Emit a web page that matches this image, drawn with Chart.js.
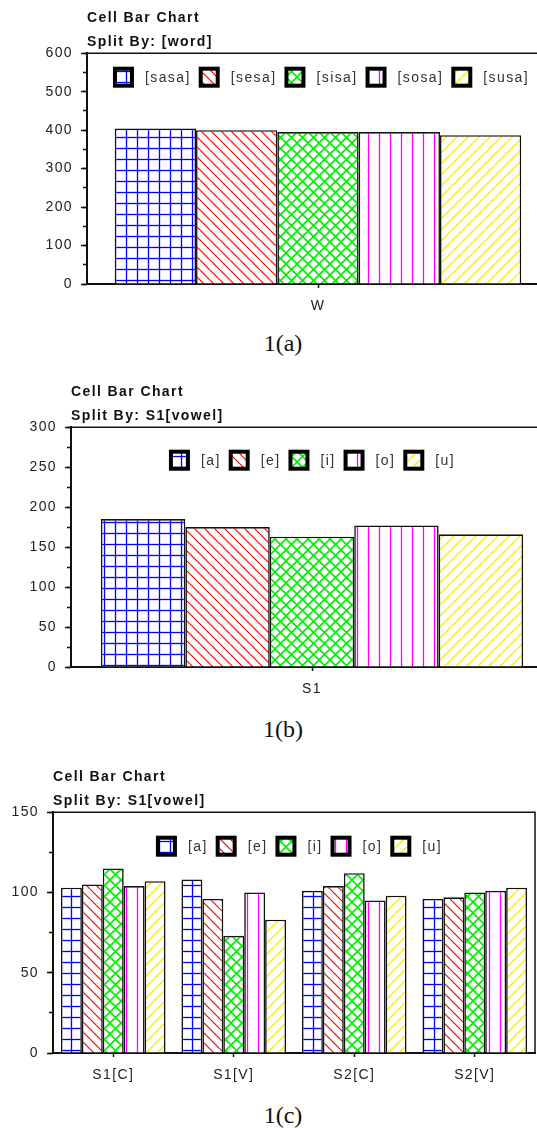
<!DOCTYPE html>
<html lang="en">
<head>
<meta charset="UTF-8">
<title>Cell Bar Chart</title>
<script src="https://cdn.jsdelivr.net/npm/chart.js@4.4.1/dist/chart.umd.min.js"></script>
<style>
  html, body { margin: 0; padding: 0; background: #fff; overflow: hidden; width: 537px; height: 1128px; position: relative; }
  canvas { position: absolute; left: 0; }
  .caption { position: absolute; left: 0; width: 566px; text-align: center; font-family: "Liberation Serif", "Times New Roman", serif; font-size: 24px; color: #111; }
</style>
</head>
<body>
<canvas id="chartA" width="551" height="320" style="top:0px"></canvas>
<div class="caption" style="top:330px">1(a)</div>
<canvas id="chartB" width="555" height="329" style="top:374px"></canvas>
<div class="caption" style="top:716px">1(b)</div>
<canvas id="chartC" width="537" height="330" style="top:759px"></canvas>
<div class="caption" style="top:1102px">1(c)</div>

<script>
// chart 1(a): split by word
var wordCats = ['W'];
var wordLabels = ['[sasa]', '[sesa]', '[sisa]', '[sosa]', '[susa]'];
var wordValues = [404, 400, 395, 395, 387];

// chart 1(b): split by S1 vowel
var s1Cats = ['S1'];
var vowelLabels = ['[a]', '[e]', '[i]', '[o]', '[u]'];
var s1Values = [185, 175, 163, 177, 166];

// chart 1(c): split by S1 vowel, per position
var posCats = ['S1[C]', 'S1[V]', 'S2[C]', 'S2[V]'];
var posA = [103, 108, 101, 96];
var posE = [105, 96, 104, 97];
var posI = [115, 73, 112, 100];
var posO = [104, 100, 95, 101];
var posU = [107, 83, 98, 103];

var FONT = '"Liberation Sans", Arial, sans-serif';

function makePatterns(ctx) {
    function line(t, x1, y1, x2, y2) {
        t.beginPath(); t.moveTo(x1, y1); t.lineTo(x2, y2); t.stroke();
    }
    function tile(size, color, width, draw) {
        var c = document.createElement('canvas');
        c.width = size; c.height = size;
        var t = c.getContext('2d');
        t.fillStyle = '#fff';
        t.fillRect(0, 0, size, size);
        t.strokeStyle = color;
        t.lineWidth = width;
        draw(t, size);
        return ctx.createPattern(c, 'repeat');
    }
    function back(t, s) { for (var k = -1; k <= 1; k++) line(t, k * s, 0, k * s + s, s); }
    function fwd(t, s) { for (var k = -1; k <= 1; k++) line(t, k * s, s, k * s + s, 0); }
    return [
        tile(11, '#0000ff', 1.3, function (t, s) { line(t, 5.5, 0, 5.5, s); line(t, 0, 5.5, s, 5.5); }),
        tile(10, '#ff0000', 1.2, back),
        tile(11, '#00ee00', 1.6, function (t, s) { back(t, s); fwd(t, s); }),
        tile(11, '#ff00ff', 1.3, function (t, s) { line(t, 5.5, 0, 5.5, s); }),
        tile(11, '#f8f000', 1.4, fwd)
    ];
}

var spacing = {
    id: 'spacing',
    beforeUpdate: function (chart) { chart.ctx.letterSpacing = '1.4px'; },
    beforeDraw: function (chart) { chart.ctx.letterSpacing = '1.4px'; }
};

var frame = {
    id: 'frame',
    afterDraw: function (chart) {
        var ctx = chart.ctx, a = chart.chartArea;
        ctx.save();
        ctx.strokeStyle = '#111';
        ctx.lineWidth = 1.5;
        ctx.beginPath();
        ctx.moveTo(a.left, a.top);
        ctx.lineTo(a.right, a.top);
        ctx.lineTo(a.right, a.bottom);
        ctx.stroke();
        ctx.restore();
    }
};

// legend drawn inside the plot, under the top frame line
var innerLegend = {
    id: 'innerLegend',
    afterDraw: function (chart, args, opts) {
        var ctx = chart.ctx, a = chart.chartArea;
        var box = 21, gap = 11, sep = 8;
        ctx.save();
        ctx.font = '14px ' + FONT;
        var items = chart.data.datasets.map(function (ds) {
            return { ds: ds, w: ctx.measureText(ds.label).width };
        });
        var total = sep * (items.length - 1);
        items.forEach(function (it) { total += box + gap + it.w; });
        var x = (a.left + a.right) / 2 - total / 2 + (opts.shift || 0);
        var cy = a.top + opts.offset;
        items.forEach(function (it) {
            ctx.fillStyle = '#000';
            ctx.fillRect(x, cy - box / 2, box, box);
            ctx.fillStyle = it.ds.backgroundColor;
            ctx.fillRect(x + 4, cy - box / 2 + 4, box - 8, box - 8);
            ctx.fillStyle = '#333';
            ctx.textAlign = 'left';
            ctx.textBaseline = 'middle';
            ctx.fillText(it.ds.label, x + box + gap, cy + 1);
            x += box + gap + it.w + sep;
        });
        ctx.restore();
    }
};

function makeChart(id, cats, labels, series, opt) {
    var ctx = document.getElementById(id).getContext('2d');
    var fills = makePatterns(ctx);
    var datasets = series.map(function (vals, i) {
        return {
            label: labels[i],
            data: vals,
            backgroundColor: fills[i],
            borderColor: '#111',
            borderWidth: 1.6,
            categoryPercentage: opt.catPct,
            barPercentage: 1
        };
    });
    return new Chart(ctx, {
        type: 'bar',
        data: { labels: cats, datasets: datasets },
        options: {
            responsive: false,
            animation: false,
            layout: { padding: { left: 0, right: opt.padRight, top: 0, bottom: 0 } },
            plugins: {
                legend: { display: false },
                tooltip: { enabled: false },
                title: {
                    display: true,
                    text: ['Cell Bar Chart', opt.split],
                    align: 'start',
                    fullSize: false,
                    color: '#111',
                    font: { family: FONT, size: 14, weight: 'bold', lineHeight: 1.65 },
                    padding: { top: 7, bottom: 0 }
                },
                innerLegend: { offset: opt.legendOffset, shift: opt.legendShift || 0 }
            },
            scales: {
                x: {
                    grid: { display: true, drawOnChartArea: false, offset: false, tickLength: 4, color: '#111', tickWidth: 1.5 },
                    border: { color: '#111', width: 2 },
                    ticks: { color: '#222', font: { family: FONT, size: 14 }, padding: 10 },
                    afterFit: function (s) { s.height = 36; }
                },
                y: {
                    position: 'left',
                    weight: 1,
                    min: 0,
                    max: opt.max,
                    ticks: { stepSize: opt.major, autoSkip: false, color: '#222', font: { family: FONT, size: 14 }, padding: 8 },
                    grid: { drawOnChartArea: false, tickLength: 6, color: '#111', tickWidth: 1.5 },
                    border: { color: '#111', width: 2 },
                    afterFit: function (s) { s.width = opt.axisLeft; }
                },
                yMinor: {
                    position: 'left',
                    weight: 0,
                    min: 0,
                    max: opt.max,
                    ticks: { display: false, stepSize: opt.major / 2, autoSkip: false },
                    grid: { drawOnChartArea: false, tickLength: 4, color: '#111', tickWidth: 1.5 },
                    border: { display: false },
                    afterFit: function (s) { s.width = 0; }
                }
            }
        },
        plugins: [spacing, frame, innerLegend]
    });
}

makeChart('chartA', wordCats, wordLabels, wordValues.map(function (v) { return [v]; }), {
    split: 'Split By: [word]', max: 600, major: 100, axisLeft: 87, padRight: 2,
    catPct: 0.88, legendOffset: 24, legendShift: 3
});

makeChart('chartB', s1Cats, vowelLabels, s1Values.map(function (v) { return [v]; }), {
    split: 'Split By: S1[vowel]', max: 300, major: 50, axisLeft: 71, padRight: 2,
    catPct: 0.876, legendOffset: 33
});

makeChart('chartC', posCats, vowelLabels, [posA, posE, posI, posO, posU], {
    split: 'Split By: S1[vowel]', max: 150, major: 50, axisLeft: 53, padRight: 2,
    catPct: 0.868, legendOffset: 34, legendShift: 5
});
</script>
</body>
</html>
